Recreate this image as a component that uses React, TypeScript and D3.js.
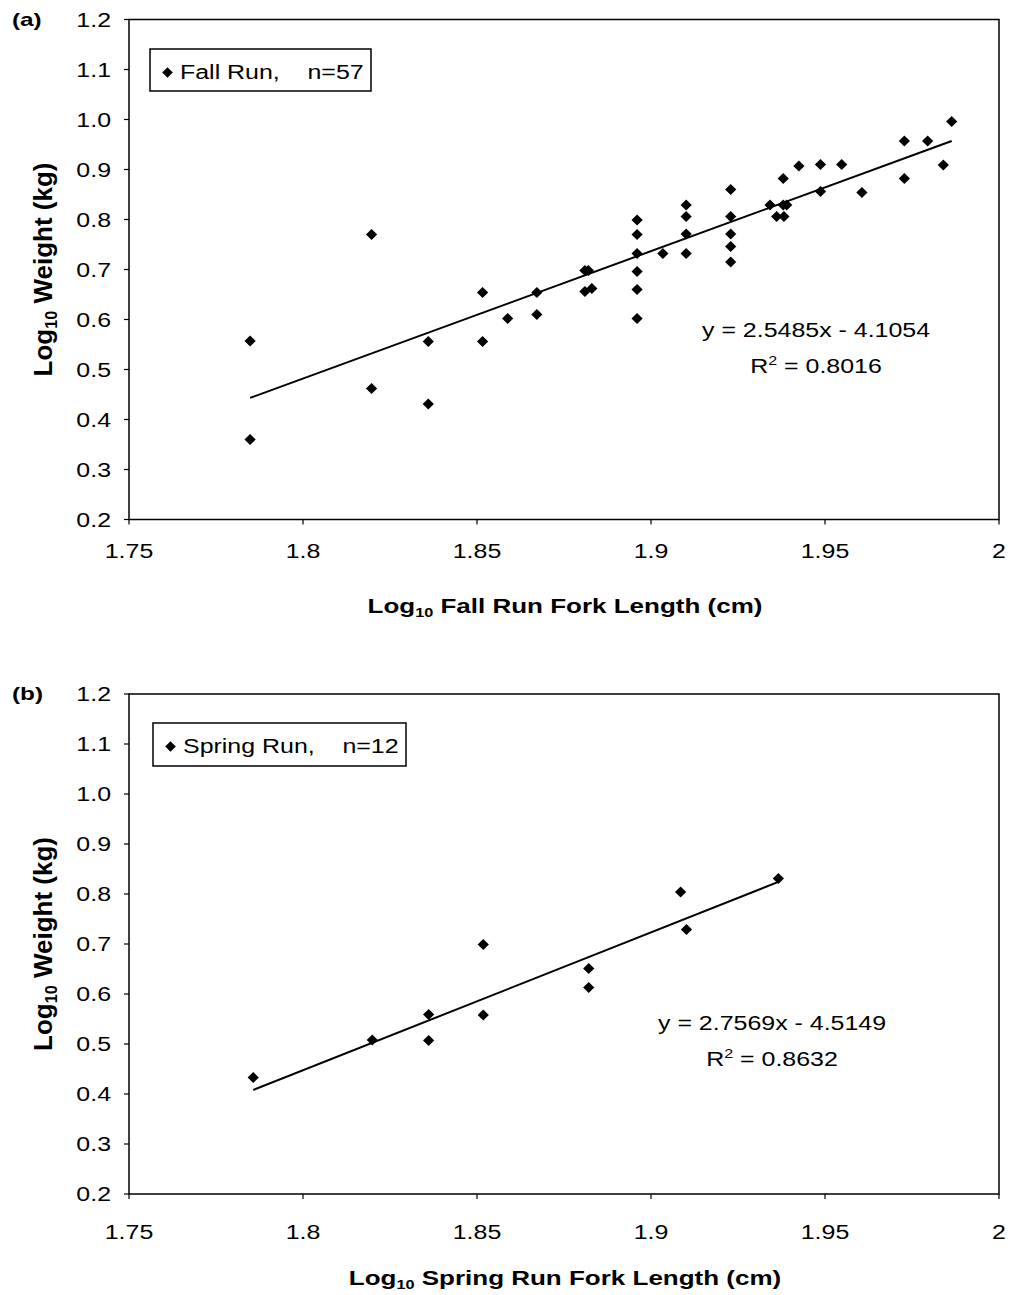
import React from "react";
import * as d3 from "d3";

// ---------- data ----------
const fallX = [
  1.7848, 1.7848, 1.8197, 1.8197, 1.836, 1.836, 1.8516, 1.8516, 1.8588, 1.8672,
  1.8672, 1.881, 1.882, 1.881, 1.883, 1.896, 1.896, 1.896, 1.896, 1.896,
  1.896, 1.9034, 1.9101, 1.9101, 1.9101, 1.9101, 1.9229, 1.9229, 1.9229, 1.9229,
  1.9229, 1.9342, 1.9361, 1.9382, 1.938, 1.939, 1.938, 1.9425, 1.9487, 1.9487,
  1.9548, 1.9606, 1.9728, 1.9728, 1.9795, 1.984, 1.9864,
];
const fallY = [
  0.557, 0.36, 0.77, 0.462, 0.556, 0.431, 0.654, 0.556, 0.602, 0.654,
  0.61, 0.698, 0.698, 0.656, 0.662, 0.799, 0.77, 0.732, 0.696, 0.66,
  0.602, 0.732, 0.829, 0.806, 0.771, 0.732, 0.86, 0.806, 0.771, 0.746,
  0.715, 0.829, 0.806, 0.806, 0.829, 0.829, 0.882, 0.907, 0.91, 0.856,
  0.91, 0.854, 0.957, 0.882, 0.957, 0.909, 0.996,
];
const springX = [1.7857, 1.8199, 1.8361, 1.8361, 1.8518, 1.8518, 1.8821, 1.8821, 1.9085, 1.9102, 1.9366];
const springY = [0.433, 0.508, 0.559, 0.507, 0.699, 0.558, 0.651, 0.613, 0.804, 0.729, 0.831];

const xTicks = [1.75, 1.8, 1.85, 1.9, 1.95, 2];
const xTickLabels = ["1.75", "1.8", "1.85", "1.9", "1.95", "2"];
const yTicks = [0.2, 0.3, 0.4, 0.5, 0.6, 0.7, 0.8, 0.9, 1.0, 1.1, 1.2];
const yTickLabels = ["0.2", "0.3", "0.4", "0.5", "0.6", "0.7", "0.8", "0.9", "1.0", "1.1", "1.2"];

const fallFit = { slope: 2.5485, intercept: -4.1054, r2: "0.8016" };
const springFit = { slope: 2.7569, intercept: -4.5149, r2: "0.8632" };

const FONT = "'Liberation Sans', Arial, Helvetica, sans-serif";
const SX = 1.28;

function SText({ x, y, children, anchor = "start", size = 19.5, bold = false, sx = SX, sy = 1, rotate = 0 }: any) {
  return (
    <text
      transform={`translate(${x},${y}) rotate(${rotate}) scale(${sx},${sy})`}
      textAnchor={anchor}
      fontFamily={FONT}
      fontSize={size}
      fontWeight={bold ? "bold" : "normal"}
      fill="#000"
      style={{ whiteSpace: "pre" }}
    >
      {children}
    </text>
  );
}

const diamond = (r: number) => `M0,${-r}L${r},0L0,${r}L${-r},0Z`;

function Panel({
  top, label, xs, ys, fit, legendText, legendBox, eqX, eqY, xTitleWord, tickLabelBase, titleBase,
}: any) {
  const x = d3.scaleLinear().domain([1.75, 2]).range([129, 999]);
  const y = d3.scaleLinear().domain([0.2, 1.2]).range([top + 500, top]);
  const x0 = d3.min(xs) as number;
  const x1 = d3.max(xs) as number;
  const line = d3
    .line<number>()
    .x((d) => x(d))
    .y((d) => y(fit.slope * d + fit.intercept));
  const bottom = top + 500;
  return (
    <g>
      <SText x={12} y={top + 6} size={19} bold>{label}</SText>
      {/* frame */}
      <rect x={129} y={top} width={870} height={500} fill="none" stroke="#000" strokeWidth={1.5} />
      {/* y ticks */}
      {yTicks.map((t, i) => (
        <g key={"y" + i}>
          <line x1={124} x2={129} y1={y(t)} y2={y(t)} stroke="#000" strokeWidth={1.2} />
          <SText x={111} y={y(t) + 7} anchor="end">{yTickLabels[i]}</SText>
        </g>
      ))}
      {/* x ticks */}
      {xTicks.map((t, i) => (
        <g key={"x" + i}>
          <line x1={x(t)} x2={x(t)} y1={bottom} y2={bottom + 5} stroke="#000" strokeWidth={1.2} />
          <SText x={x(t)} y={bottom + tickLabelBase} anchor="middle">{xTickLabels[i]}</SText>
        </g>
      ))}
      {/* trend line */}
      <path d={line([x0, x1]) as string} fill="none" stroke="#000" strokeWidth={2} />
      {/* points */}
      {xs.map((v: number, i: number) => (
        <path key={"p" + i} d={diamond(5.6)} transform={`translate(${x(v)},${y(ys[i])})`} fill="#000" />
      ))}
      {/* legend */}
      <rect x={legendBox[0]} y={legendBox[1]} width={legendBox[2]} height={legendBox[3]} fill="#fff" stroke="#000" strokeWidth={1.5} />
      <path d={diamond(5.3)} transform={`translate(${legendBox[0] + 17.5},${legendBox[1] + 23.5})`} fill="#000" />
      <SText x={legendBox[0] + 30} y={legendBox[1] + 30}>{legendText}</SText>
      {/* equation */}
      <SText x={eqX} y={eqY} anchor="middle">{`y = ${fit.slope}x - ${Math.abs(fit.intercept)}`}</SText>
      <text
        transform={`translate(${eqX},${eqY + 36}) scale(${SX},1)`}
        textAnchor="middle"
        fontFamily={FONT}
        fontSize={19.5}
        fill="#000"
      >
        R<tspan fontSize={12.5} dy={-8}>2</tspan>
        <tspan dy={8}>{` = ${fit.r2}`}</tspan>
      </text>
      {/* x title */}
      <text
        transform={`translate(565,${bottom + titleBase}) scale(1.3,1)`}
        textAnchor="middle"
        fontFamily={FONT}
        fontSize={20}
        fontWeight="bold"
        fill="#000"
      >
        Log<tspan fontSize={12.5} dy={4}>10</tspan>
        <tspan dy={-4}>{` ${xTitleWord} Run Fork Length (cm)`}</tspan>
      </text>
      {/* y title */}
      <text
        transform={`translate(52,${top + 250}) rotate(-90) scale(1.3,1.28)`}
        textAnchor="middle"
        fontFamily={FONT}
        fontSize={20}
        fontWeight="bold"
        fill="#000"
      >
        Log<tspan fontSize={12.5} dy={4}>10</tspan>
        <tspan dy={-4}>{" Weight (kg)"}</tspan>
      </text>
    </g>
  );
}

export default function App() {
  return (
    <svg
      width={1013}
      height={1295}
      viewBox="0 0 1013 1295"
      style={{ position: "absolute", left: 0, top: 0, background: "#fff" }}
    >
      <rect x={0} y={0} width={1013} height={1295} fill="#fff" />
      <Panel
        top={19.5}
        label="(a)"
        xs={fallX}
        ys={fallY}
        fit={fallFit}
        legendText={"Fall Run,    n=57"}
        legendBox={[150, 49, 221, 42]}
        eqX={816}
        eqY={337}
        xTitleWord="Fall"
        tickLabelBase={38}
        titleBase={93}
      />
      <Panel
        top={694}
        label="(b)"
        xs={springX}
        ys={springY}
        fit={springFit}
        legendText={"Spring Run,    n=12"}
        legendBox={[153, 723, 253, 43]}
        eqX={772}
        eqY={1030}
        xTitleWord="Spring"
        tickLabelBase={45}
        titleBase={91}
      />
    </svg>
  );
}
